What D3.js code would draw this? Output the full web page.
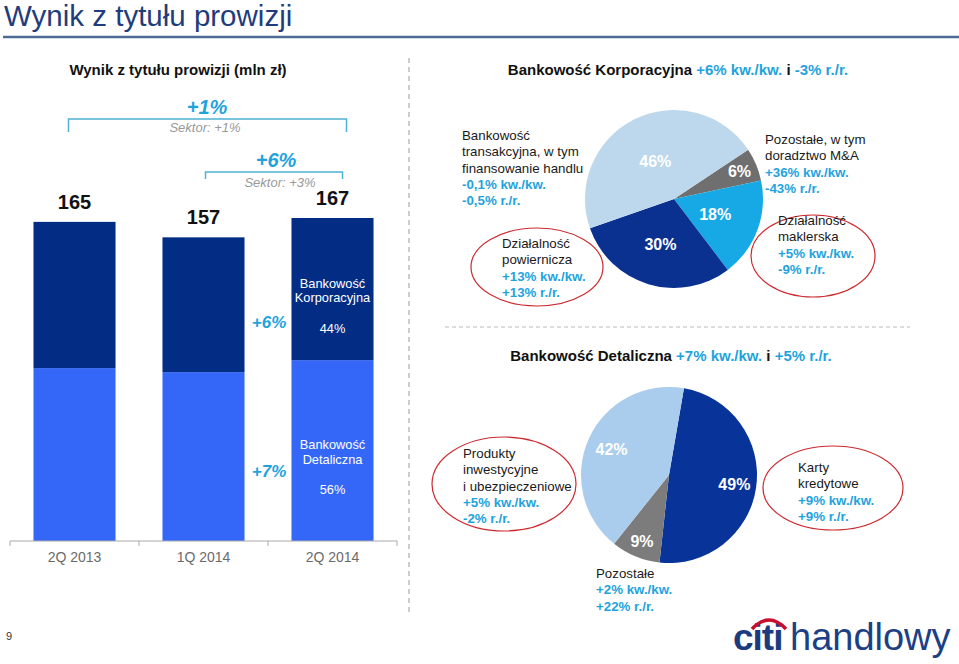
<!DOCTYPE html>
<html>
<head>
<meta charset="utf-8">
<script src="https://cdn.jsdelivr.net/npm/d3@7"></script>
<style>
  body { margin: 0; background: #fff; }
  svg { display: block; font-family: "Liberation Sans", Arial, sans-serif; }
</style>
</head>
<body>
<svg id="chart"></svg>
<script>
// --- data ---
const categories = ['2Q 2013', '1Q 2014', '2Q 2014'];
const retail = [89.4, 87.3, 93.5];
const corporate = [75.6, 69.7, 73.5];
const totals = [165, 157, 167];

const corpShares = [6, 18, 30, 46];
const corpNames = ['Pozostałe', 'Działalność maklerska', 'Działalność powiernicza', 'Bankowość transakcyjna'];
const retailShares = [49, 9, 42];
const retailNames = ['Karty kredytowe', 'Pozostałe', 'Produkty inwestycyjne'];

// --- layout / style ---
const W = 959, H = 664;
const BLUE_TXT = '#1fa3dd';
const RED = '#cc2a30';
const corpColors = ['#6f6f6f', '#17a9e6', '#0b3190', '#bdd7ec'];
const retailColors = ['#08349a', '#7c7c7c', '#aacdee'];
const LABEL_SIZE = 13.3;

const svg = d3.select('#chart').attr('width', W).attr('height', H);

// page title
svg.append('text').attr('x', 4).attr('y', 26)
  .attr('font-size', 29.5).attr('fill', '#1f3c7c')
  .text('Wynik z tytułu prowizji');
svg.append('line').attr('x1', 3).attr('x2', W).attr('y1', 37).attr('y2', 37)
  .attr('stroke', '#4e6b95').attr('stroke-width', 2.5);

// dashed separators
svg.append('line').attr('x1', 409).attr('x2', 409).attr('y1', 58).attr('y2', 612)
  .attr('stroke', '#9a9a9a').attr('stroke-dasharray', '5,4');
svg.append('line').attr('x1', 445).attr('x2', 910).attr('y1', 327).attr('y2', 327)
  .attr('stroke', '#bbbbbb').attr('stroke-dasharray', '4,3');

// ---------------- bar chart ----------------
svg.append('text').attr('x', 178).attr('y', 75).attr('text-anchor', 'middle')
  .attr('font-size', 15).attr('font-weight', 'bold').attr('fill', '#111')
  .text('Wynik z tytułu prowizji (mln zł)');

const x = d3.scaleBand().domain(categories).range([10, 397])
  .paddingInner(0.364).paddingOuter(0.182);
const y = d3.scaleLinear().domain([0, 167]).range([541, 218]);

const rows = categories.map((c, i) => ({cat: c, retail: retail[i], corporate: corporate[i]}));
const stack = d3.stack().keys(['retail', 'corporate'])(rows);
const barColors = {retail: '#3467f8', corporate: '#032d84'};

const bars = svg.append('g');
stack.forEach(layer => {
  bars.selectAll(null).data(layer).enter().append('rect')
    .attr('x', d => x(d.data.cat))
    .attr('width', x.bandwidth())
    .attr('y', d => y(d[1]))
    .attr('height', d => y(d[0]) - y(d[1]))
    .attr('fill', barColors[layer.key]);
});

// totals
svg.selectAll(null).data(categories).enter().append('text')
  .attr('x', d => x(d) + x.bandwidth() / 2)
  .attr('y', (d, i) => y(totals[i]) - 13)
  .attr('text-anchor', 'middle').attr('font-size', 20).attr('font-weight', 'bold')
  .attr('fill', '#111').text((d, i) => totals[i]);

// axis
const gap = x.step() - x.bandwidth();
const seps = categories.map(c => x(c) - gap / 2).concat([x(categories[2]) + x.bandwidth() + gap / 2]);
const axis = svg.append('g').attr('stroke', '#aaaaaa');
axis.append('line').attr('x1', seps[0]).attr('x2', seps[3]).attr('y1', y(0)).attr('y2', y(0));
axis.selectAll(null).data(seps).enter().append('line')
  .attr('x1', d => d).attr('x2', d => d).attr('y1', y(0)).attr('y2', y(0) + 5);
svg.selectAll(null).data(categories).enter().append('text')
  .attr('x', d => x(d) + x.bandwidth() / 2).attr('y', 562)
  .attr('text-anchor', 'middle').attr('font-size', 14).attr('fill', '#6b6b6b')
  .text(d => d);

// labels inside last bar
const last = categories[2];
const cx3 = x(last) + x.bandwidth() / 2;
const corpMid = (y(totals[2]) + y(retail[2])) / 2;
const retMid = (y(retail[2]) + y(0)) / 2;
const inBar = [
  ['Bankowość', corpMid - 1], ['Korporacyjna', corpMid + 13], ['44%', corpMid + 44],
  ['Bankowość', retMid - 2], ['Detaliczna', retMid + 13], ['56%', retMid + 43]
];
svg.selectAll(null).data(inBar).enter().append('text')
  .attr('x', cx3).attr('y', d => d[1]).attr('text-anchor', 'middle')
  .attr('font-size', 12.8).attr('fill', '#fff').text(d => d[0]);

const growth = svg.append('g').attr('fill', BLUE_TXT).attr('font-weight', 'bold')
  .attr('font-style', 'italic').attr('text-anchor', 'middle');
growth.append('text').attr('x', 269).attr('y', corpMid + 39).attr('font-size', 17).text('+6%');
growth.append('text').attr('x', 269).attr('y', retMid + 26).attr('font-size', 17).text('+7%');

// brackets
function bracket(x1, x2, top, bottom) {
  svg.append('path')
    .attr('d', `M${x1},${bottom}V${top}H${x2}V${bottom}`)
    .attr('fill', 'none').attr('stroke', '#4fb2d3').attr('stroke-width', 1.5);
}
const c1 = x(categories[0]) + x.bandwidth() / 2;
const c2 = x(categories[1]) + x.bandwidth() / 2;
bracket(c1 - 6, cx3 + 14, 119, 132);
bracket(c2 + 2, cx3 + 10, 172, 179);
growth.append('text').attr('x', 207).attr('y', 114).attr('font-size', 20).text('+1%');
growth.append('text').attr('x', 276).attr('y', 167).attr('font-size', 20).text('+6%');
const sektor = svg.append('g').attr('fill', '#999').attr('font-style', 'italic')
  .attr('font-size', 13).attr('text-anchor', 'middle');
sektor.append('text').attr('x', 205).attr('y', 132).text('Sektor: +1%');
sektor.append('text').attr('x', 280).attr('y', 187).text('Sektor: +3%');

// ---------------- pies ----------------
function heading(cx, cy, parts) {
  const t = svg.append('text').attr('x', cx).attr('y', cy).attr('text-anchor', 'middle')
    .attr('font-size', 15).attr('font-weight', 'bold');
  parts.forEach(p => t.append('tspan').attr('fill', p[1] ? BLUE_TXT : '#111').text(p[0]));
}
heading(678, 75, [['Bankowość Korporacyjna ', 0], ['+6% kw./kw.', 1], [' i ', 0], ['-3% r./r.', 1]]);
heading(671, 361, [['Bankowość Detaliczna ', 0], ['+7% kw./kw.', 1], [' i ', 0], ['+5% r./r.', 1]]);

function drawPie(cx, cy, r, shares, colors, start, labelR) {
  const pie = d3.pie().sort(null).startAngle(start).endAngle(start + 2 * Math.PI);
  const arcs = pie(shares);
  const g = svg.append('g').attr('transform', `translate(${cx},${cy})`);
  const arc = d3.arc().innerRadius(0).outerRadius(r);
  g.selectAll('path').data(arcs).enter().append('path')
    .attr('d', arc).attr('fill', (d, i) => colors[i]);
  g.selectAll('text').data(arcs).enter().append('text')
    .attr('transform', (d, i) => {
      const c = d3.arc().innerRadius(labelR[i]).outerRadius(labelR[i]).centroid(d);
      return `translate(${c[0]},${c[1] + 6})`;
    })
    .attr('text-anchor', 'middle').attr('font-size', 16).attr('font-weight', 'bold')
    .attr('fill', '#fff').text(d => d.data + '%');
}
const deg = Math.PI / 180;
drawPie(674, 199, 89, corpShares, corpColors, 56.4 * deg, [71, 44, 47, 42]);
drawPie(669, 475, 88, retailShares, retailColors, 9.8 * deg, [66, 71, 63]);

function block(x0, y0, lines) {
  const g = svg.append('g').attr('font-size', LABEL_SIZE);
  lines.forEach((l, i) => {
    g.append('text').attr('x', x0).attr('y', y0 + i * 16.3)
      .attr('fill', l[1] ? BLUE_TXT : '#1a1a1a')
      .attr('font-weight', l[1] ? 'bold' : 'normal').text(l[0]);
  });
}
function ellipse(cx, cy, rx, ry) {
  svg.append('ellipse').attr('cx', cx).attr('cy', cy).attr('rx', rx).attr('ry', ry)
    .attr('fill', 'none').attr('stroke', RED).attr('stroke-width', 1.2);
}

block(462, 140, [['Bankowość', 0], ['transakcyjna, w tym', 0], ['finansowanie handlu', 0], ['-0,1% kw./kw.', 1], ['-0,5% r./r.', 1]]);
ellipse(537, 267, 66, 39);
block(502, 248, [['Działalność', 0], ['powiernicza', 0], ['+13% kw./kw.', 1], ['+13% r./r.', 1]]);
block(765, 144, [['Pozostałe, w tym', 0], ['doradztwo M&A', 0], ['+36% kw./kw.', 1], ['-43% r./r.', 1]]);
ellipse(813, 256, 62, 41);
block(778, 225, [['Działalność', 0], ['maklerska', 0], ['+5% kw./kw.', 1], ['-9% r./r.', 1]]);

ellipse(504, 484, 72, 47);
block(463, 458, [['Produkty', 0], ['inwestycyjne', 0], ['i ubezpieczeniowe', 0], ['+5% kw./kw.', 1], ['-2% r./r.', 1]]);
ellipse(833, 488, 70, 42);
block(798, 472, [['Karty', 0], ['kredytowe', 0], ['+9% kw./kw.', 1], ['+9% r./r.', 1]]);
block(596, 578, [['Pozostałe', 0], ['+2% kw./kw.', 1], ['+22% r./r.', 1]]);

// ---------------- footer ----------------
svg.append('text').attr('x', 6).attr('y', 640).attr('font-size', 11).attr('fill', '#333').text('9');
const logo = svg.append('g');
logo.append('text').attr('x', 733).attr('y', 650).attr('font-size', 37)
  .attr('font-weight', 'bold').attr('fill', '#1c3b7e').attr('letter-spacing', -1).text('citi');
logo.append('path').attr('d', 'M752,629 Q769,611 786,629')
  .attr('fill', 'none').attr('stroke', '#c8102e').attr('stroke-width', 3.5);
logo.append('text').attr('x', 790).attr('y', 650).attr('font-size', 38)
  .attr('fill', '#1c3f86').text('handlowy');
</script>
</body>
</html>
